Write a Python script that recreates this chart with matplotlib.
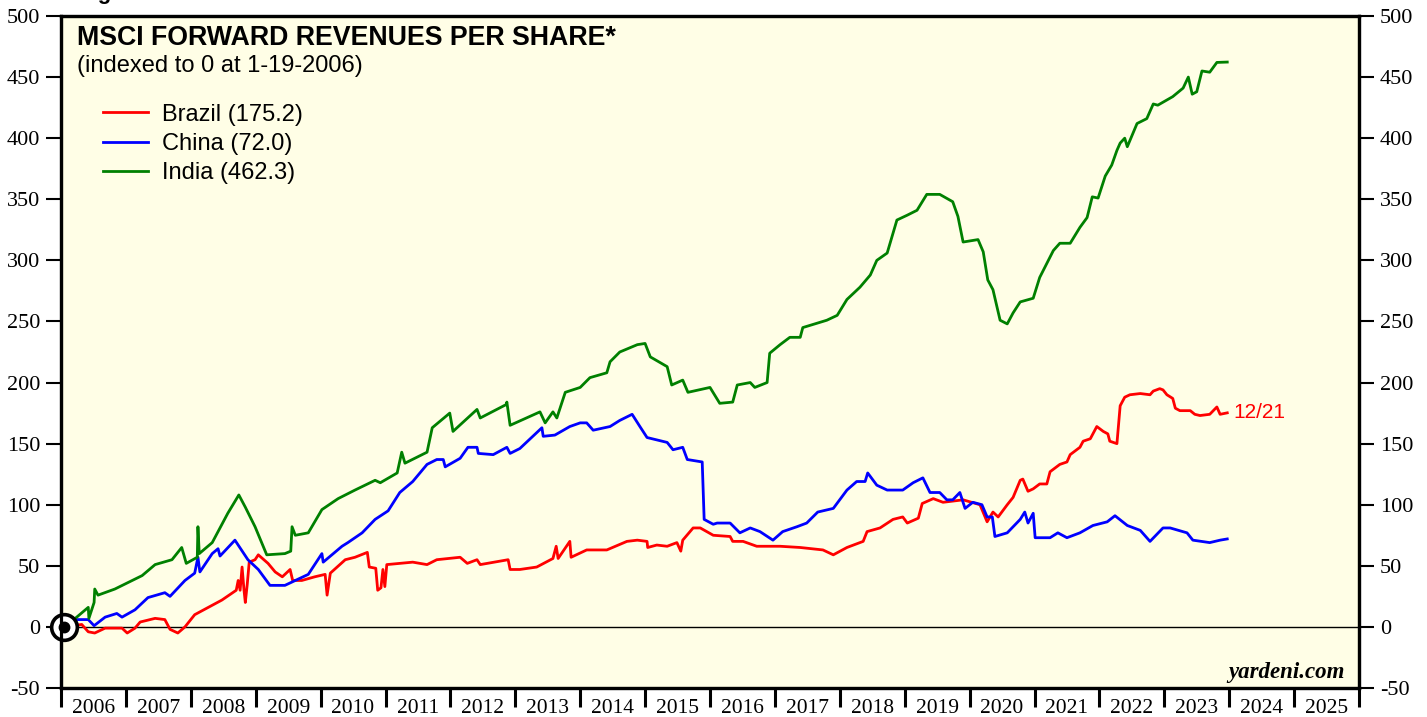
import matplotlib.pyplot as plt
import numpy as np

# weekly data, decimal years
brazil_x = [2006.05, 2006.32, 2006.42, 2006.52, 2006.68, 2006.94, 2007.02, 2007.14, 2007.22, 2007.45,
            2007.60, 2007.68, 2007.80, 2007.91, 2008.06, 2008.27, 2008.48, 2008.70, 2008.73, 2008.76,
            2008.79, 2008.82, 2008.84, 2008.87, 2008.90, 2008.99, 2009.04, 2009.19, 2009.30, 2009.41,
            2009.53, 2009.57, 2009.71, 2009.91, 2010.07, 2010.10, 2010.15, 2010.38, 2010.53, 2010.72,
            2010.75, 2010.85, 2010.88, 2010.93, 2010.96, 2010.99, 2011.02, 2011.22, 2011.42, 2011.64,
            2011.79, 2012.15, 2012.26, 2012.41, 2012.46, 2012.89, 2012.92, 2013.07, 2013.33, 2013.58,
            2013.63, 2013.66, 2013.84, 2013.86, 2014.10, 2014.41, 2014.72, 2014.88, 2015.03, 2015.04,
            2015.18, 2015.34, 2015.49, 2015.55, 2015.58, 2015.74, 2015.85, 2016.05, 2016.31, 2016.35,
            2016.51, 2016.72, 2017.08, 2017.39, 2017.74, 2017.90, 2018.11, 2018.36, 2018.42, 2018.62,
            2018.82, 2018.97, 2019.04, 2019.21, 2019.27, 2019.44, 2019.59, 2019.90, 2020.16, 2020.27,
            2020.36, 2020.44, 2020.58, 2020.67, 2020.78, 2020.82, 2020.90, 2020.98, 2021.08, 2021.19,
            2021.24, 2021.39, 2021.50, 2021.55, 2021.70, 2021.75, 2021.86, 2021.96, 2022.06, 2022.13,
            2022.16, 2022.27, 2022.32, 2022.39, 2022.47, 2022.63, 2022.78, 2022.83, 2022.93, 2022.98,
            2023.04, 2023.13, 2023.17, 2023.24, 2023.40, 2023.47, 2023.55, 2023.70, 2023.81, 2023.86,
            2023.97]
brazil_y = [0, 2, -4, -5, -1, -1, -5, -1, 4, 7,
            6, -2, -5, 0, 10, 16, 22, 30, 38, 30,
            49, 30, 20, 35, 53, 55, 59, 52, 45, 41,
            47, 38, 38, 41, 43, 26, 44, 55, 57, 61,
            49, 48, 30, 32, 47, 33, 51, 52, 53, 51,
            55, 57, 52, 55, 51, 55, 47, 47, 49, 56,
            66, 56, 70, 57, 63, 63, 70, 71, 70, 65,
            67, 66, 69, 62, 71, 81, 81, 75, 74, 70,
            70, 66, 66, 65, 63, 59, 65, 70, 78, 81,
            88, 90, 85, 89, 101, 105, 102, 104, 100, 86,
            94, 90, 100, 106, 120, 121, 111, 113, 117, 117,
            127, 133, 135, 141, 147, 152, 154, 164, 160, 158,
            152, 150, 181, 188, 190, 191, 190, 193, 195, 194,
            190, 187, 179, 177, 177, 174, 173, 174, 180, 174,
            175.2]

china_x = [2006.05, 2006.08, 2006.42, 2006.51, 2006.68, 2006.86, 2006.94, 2007.14, 2007.34, 2007.60,
           2007.68, 2007.91, 2008.06, 2008.11, 2008.14, 2008.33, 2008.42, 2008.45, 2008.68, 2008.88,
           2009.04, 2009.22, 2009.45, 2009.61, 2009.81, 2010.02, 2010.04, 2010.33, 2010.42, 2010.64,
           2010.84, 2011.04, 2011.22, 2011.42, 2011.64, 2011.79, 2011.89, 2011.92, 2012.15, 2012.27,
           2012.41, 2012.43, 2012.66, 2012.87, 2012.92, 2013.07, 2013.33, 2013.41, 2013.43, 2013.61,
           2013.84, 2014.00, 2014.10, 2014.20, 2014.46, 2014.61, 2014.80, 2014.92, 2015.03, 2015.34,
           2015.43, 2015.58, 2015.65, 2015.88, 2015.91, 2016.05, 2016.11, 2016.31, 2016.46, 2016.62,
           2016.77, 2016.97, 2017.12, 2017.34, 2017.49, 2017.66, 2017.90, 2018.11, 2018.26, 2018.39,
           2018.43, 2018.57, 2018.73, 2018.97, 2019.13, 2019.28, 2019.39, 2019.54, 2019.65, 2019.74,
           2019.85, 2019.93, 2020.05, 2020.19, 2020.27, 2020.35, 2020.39, 2020.58, 2020.78, 2020.85,
           2020.90, 2020.98, 2021.01, 2021.24, 2021.36, 2021.50, 2021.70, 2021.90, 2022.12, 2022.24,
           2022.43, 2022.63, 2022.78, 2022.98, 2023.09, 2023.35, 2023.44, 2023.70, 2023.86, 2023.97]
china_y = [0, 6, 6, 1, 8, 11, 8, 14, 24, 28,
           25, 38, 44, 57, 45, 60, 64, 58, 71, 55,
           47, 34, 34, 38, 43, 60, 53, 66, 69, 77,
           88, 95, 110, 119, 133, 137, 137, 131, 138, 147,
           147, 142, 141, 147, 142, 146, 159, 163, 156, 157,
           164, 167, 167, 161, 164, 169, 174, 164, 155, 151,
           145, 147, 137, 135, 88, 84, 85, 85, 77, 81,
           78, 71, 78, 82, 85, 94, 97, 112, 119, 119,
           126, 116, 112, 112, 118, 122, 110, 110, 104, 104,
           110, 97, 102, 100, 90, 90, 74, 77, 88, 94,
           85, 93, 73, 73, 77, 73, 77, 83, 86, 91,
           83, 79, 70, 81, 81, 77, 71, 69, 71, 72.0]

india_x = [2006.05, 2006.22, 2006.42, 2006.43, 2006.51, 2006.52, 2006.57, 2006.83, 2007.25, 2007.45,
           2007.71, 2007.86, 2007.93, 2008.10, 2008.11, 2008.13, 2008.33, 2008.57, 2008.74, 2008.84,
           2008.99, 2009.17, 2009.45, 2009.54, 2009.56, 2009.61, 2009.81, 2010.02, 2010.27, 2010.53,
           2010.84, 2010.92, 2011.18, 2011.25, 2011.30, 2011.64, 2011.72, 2011.99, 2012.04, 2012.41,
           2012.46, 2012.86, 2012.87, 2012.92, 2013.38, 2013.46, 2013.58, 2013.64, 2013.77, 2014.00,
           2014.15, 2014.41, 2014.46, 2014.61, 2014.88, 2015.00, 2015.08, 2015.34, 2015.41, 2015.58,
           2015.66, 2016.00, 2016.15, 2016.35, 2016.42, 2016.62, 2016.69, 2016.88, 2016.92, 2017.08,
           2017.23, 2017.39, 2017.43, 2017.80, 2017.96, 2018.11, 2018.31, 2018.47, 2018.57, 2018.73,
           2018.88, 2019.04, 2019.19, 2019.34, 2019.54, 2019.74, 2019.82, 2019.90, 2020.13, 2020.21,
           2020.28, 2020.36, 2020.47, 2020.58, 2020.67, 2020.78, 2020.98, 2021.08, 2021.29, 2021.39,
           2021.55, 2021.70, 2021.81, 2021.89, 2021.98, 2022.09, 2022.19, 2022.27, 2022.32, 2022.39,
           2022.43, 2022.58, 2022.73, 2022.83, 2022.90, 2023.13, 2023.29, 2023.37, 2023.43, 2023.50,
           2023.58, 2023.70, 2023.81, 2023.97]
india_y = [0, 7, 16, 7, 20, 31, 26, 31, 42, 51,
           55, 65, 52, 57, 82, 60, 69, 93, 108, 98,
           82, 59, 60, 62, 82, 75, 77, 96, 105, 112,
           120, 118, 126, 143, 134, 143, 163, 175, 160, 178,
           171, 182, 184, 165, 176, 167, 176, 171, 192, 196,
           204, 208, 217, 225, 231, 232, 221, 213, 198, 202,
           192, 196, 183, 184, 198, 200, 196, 200, 224, 231,
           237, 237, 245, 251, 255, 268, 278, 288, 300, 306,
           333, 337, 341, 354, 354, 348, 336, 315, 317, 307,
           284, 276, 251, 248, 257, 266, 269, 286, 308, 314,
           314, 327, 335, 352, 351, 369, 378, 390, 396, 400,
           393, 412, 416, 428, 427, 434, 441, 450, 436, 438,
           455, 454, 462, 462.3]

labels = ['Brazil (175.2)', 'China (72.0)', 'India (462.3)']
colors = ['#ff0000', '#0000ff', '#008000']
years = list(range(2006, 2026))
yticks = list(range(-50, 501, 50))

bg = '#fffee6'
serif = 'Liberation Serif'
sans = 'Liberation Sans'

fig = plt.figure(figsize=(14.27, 7.17), dpi=100)
ax = fig.add_axes([61 / 1427, 1 - 688 / 717, 1298 / 1427, 672 / 717])
ax.set_facecolor(bg)

ax.axhline(0, color='black', lw=1.0, zorder=1)
for xs, ys, c, lab in zip([brazil_x, china_x, india_x], [brazil_y, china_y, india_y], colors, labels):
    ax.plot(xs, ys, color=c, lw=2.0, label=lab, zorder=3)

# origin marker
ax.plot([brazil_x[0]], [0], marker='o', ms=18.5, mfc='white', mec='black', mew=2.6,
        zorder=5, clip_on=False)
ax.plot([brazil_x[0]], [0], marker='o', ms=7.5, mfc='black', mec='black', zorder=6, clip_on=False)

ax.set_xlim(2006, 2026)
ax.set_ylim(-50, 500)

ax.set_xticks(years + [2026])
ax.set_xticklabels([])
ax.set_xticks([y + 0.5 for y in years], minor=True)
ax.set_xticklabels([str(y) for y in years], minor=True, fontfamily=serif, fontsize=15.5)
ax.tick_params(axis='x', which='major', direction='out', length=14, width=2.2, color='black')
ax.tick_params(axis='x', which='minor', length=0, pad=8)

ax.set_yticks(yticks)
ax.set_yticklabels([str(v) for v in yticks], fontfamily=serif, fontsize=16)
ax.tick_params(axis='y', direction='out', length=11, width=1.5, pad=4)

ax2 = ax.twinx()
ax2.set_ylim(-50, 500)
ax2.set_yticks(yticks)
ax2.set_yticklabels([str(v) for v in yticks], fontfamily=serif, fontsize=16)
ax2.tick_params(axis='y', direction='out', length=11, width=1.5, pad=4)

for a in (ax, ax2):
    for s in a.spines.values():
        s.set_linewidth(2.3)

ax.text(0.0123, 0.9568, 'MSCI FORWARD REVENUES PER SHARE*', transform=ax.transAxes,
        fontfamily=sans, fontweight='bold', fontsize=19.3, va='baseline', ha='left')
ax.text(0.0123, 0.9167, '(indexed to 0 at 1-19-2006)', transform=ax.transAxes,
        fontfamily=sans, fontsize=17, va='baseline', ha='left')

leg = ax.legend(loc='upper left', bbox_to_anchor=(0.0324, 0.8695), frameon=False,
                prop={'family': sans, 'size': 17}, handlelength=1.9, handletextpad=0.6,
                labelspacing=0.3, borderpad=0, borderaxespad=0)
for h in leg.get_lines():
    h.set_linewidth(2.0)

ax.text(2024.06, brazil_y[-1], '12/21', color='#ff0000', fontfamily=sans, fontsize=15,
        va='center', ha='left')

ax.text(0.9892, 0.0149, 'yardeni.com', transform=ax.transAxes, fontfamily=serif,
        fontweight='bold', fontstyle='italic', fontsize=16.5, ha='right', va='baseline')

fig.text(78 / 1427, 1 + 1 / 717, 'Figure 3.', fontfamily=sans, fontweight='bold',
         fontsize=16, va='baseline', ha='left')

fig.savefig('out.png', dpi=100, facecolor='white')
